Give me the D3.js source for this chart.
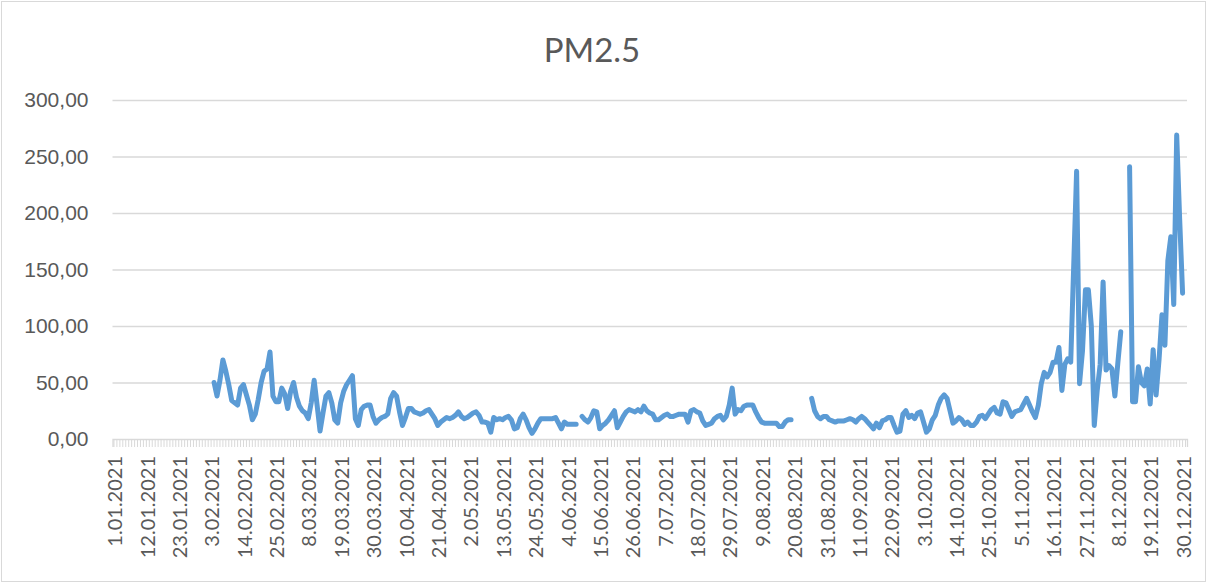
<!DOCTYPE html>
<html>
<head>
<meta charset="utf-8">
<script src="https://cdn.jsdelivr.net/npm/d3@7"></script>
<style>
  body { margin: 0; background: #fff; }
  svg { display: block; font-family: Lato, "Open Sans", sans-serif; }
</style>
</head>
<body>
<div id="chart"></div>
<script>
// daily PM2.5, 2021 (null = no measurement)
const jan = Array(31).fill(null);
const feb = [null, null, null,
  50, 38, 52, 70, 60, 48, 34, 32, 30, 45, 48, 39, 30, 17, 22, 35, 50, 60, 62, 77, 38, 33, 33, 45, 40];
const mar = [27, 42, 50, 37, 29, 25, 23, 18, 32, 52, 30, 7, 23, 38, 41, 32, 17, 14, 32, 42,
  48, 52, 56, 18, 12, 26, 29, 30, 30, 20, 14];
const apr = [17, 19, 20, 22, 36, 41, 38, 24, 12, 19, 27, 27, 24, 23, 22, 23, 25, 26, 22, 18,
  12, 15, 17, 19, 18, 19, 21, 24, 20, 18];
const may = [19, 21, 23, 24, 21, 15, 15, 14, 6, 19, 17, 18, 17, 19, 20, 17, 9, 10, 18, 22,
  17, 10, 5, 9, 14, 18, 18, 18, 18, 18, 19];
const jun = [14, 9, 15, 13, 13, 13, 13, null, 20, 17, 15, 19, 25, 24, 9, 12, 14, 17, 21, 25,
  10, 15, 20, 24, 26, 25, 24, 26, 24, 29];
const jul = [25, 23, 22, 17, 17, 19, 21, 22, 20, 20, 21, 22, 22, 22, 15, 25, 26, 24, 23, 16,
  12, 13, 14, 18, 20, 21, 17, 20, 30, 45, 22];
const aug = [26, 25, 29, 30, 30, 30, 24, 19, 15, 14, 14, 14, 14, 14, 11, 11, 15, 17, 17,
  null, null, null, null, null, null, 36, 25, 20, 18, 20, 20];
const sep = [17, 16, 15, 16, 16, 16, 17, 18, 17, 15, 18, 20, 18, 15, 12, 9, 14, 10, 16, 17,
  19, 19, 12, 6, 7, 22, 25, 19, 21, 18];
const oct = [23, 24, 15, 6, 9, 17, 21, 30, 36, 39, 36, 25, 14, 16, 19, 17, 13, 15, 12, 12,
  15, 20, 21, 18, 22, 26, 28, 23, 22, 33, 32];
const nov = [26, 20, 24, 25, 26, 31, 36, 30, 24, 19, 30, 49, 59, 55, 59, 68, 68, 81, 43, 66,
  71, 68, 152, 237, 49, 78, 132, 132, 100, 12];
const dec = [43, 66, 139, 61, 65, 62, 38, 67, 95, null, null, 241, 33, 33, 64, 50, 47, 62, 31, 79,
  39, 70, 110, 83, 158, 179, 119, 269, 195, 129, null];

const values = [].concat(jan, feb, mar, apr, may, jun, jul, aug, sep, oct, nov, dec);
const days = d3.timeDay.range(new Date(2021, 0, 1), new Date(2022, 0, 1));
const yTicks = [0, 50, 100, 150, 200, 250, 300];
const labelEvery = 11;
const title = 'PM2.5';

const W = 1208, H = 585;
const plotLeft = 112.5, plotRight = 1187, plotTop = 100, plotBottom = 439;
const grey = '#595959';

const svg = d3.select('#chart').append('svg')
  .attr('width', W)
  .attr('height', H);

svg.append('rect')
  .attr('x', 1.5).attr('y', 1.5)
  .attr('width', W - 4).attr('height', H - 5)
  .attr('fill', '#fff')
  .attr('stroke', '#d9d9d9');

const x = d3.scaleBand()
  .domain(d3.range(days.length))
  .range([plotLeft, plotRight]);

const y = d3.scaleLinear()
  .domain([0, 300])
  .range([plotBottom, plotTop]);

// grid + y labels
const yAxis = svg.append('g')
  .attr('transform', `translate(${plotLeft},0)`)
  .call(d3.axisLeft(y)
    .tickValues(yTicks)
    .tickSize(-(plotRight - plotLeft))
    .tickPadding(24)
    .tickFormat(d => d3.format('.2f')(d).replace('.', ',')));
yAxis.select('.domain').remove();
yAxis.selectAll('.tick line').attr('stroke', '#d9d9d9').attr('stroke-width', 1.3);
yAxis.selectAll('.tick text')
  .attr('fill', grey)
  .style('font-size', '21px');
yAxis.selectAll('.tick').filter(d => d === 0).select('line').remove();

// daily tick stripe
const xTicks = svg.append('g')
  .attr('transform', `translate(0,${plotBottom})`)
  .call(d3.axisBottom(x).tickSize(8).tickFormat(''));
xTicks.select('.domain').attr('stroke', '#d9d9d9').attr('stroke-width', 1.3);
xTicks.selectAll('.tick line').attr('stroke', '#d9d9d9');

// date labels
const fmt = d3.timeFormat('%-d.%m.%Y');
svg.append('g')
  .selectAll('text')
  .data(d3.range(0, days.length, labelEvery))
  .join('text')
  .attr('transform', d => `translate(${x(d) + x.bandwidth() / 2 + 1},456) rotate(-90)`)
  .attr('text-anchor', 'end')
  .attr('dy', '0.36em')
  .attr('fill', grey)
  .style('font-size', '20px')
  .text(d => fmt(days[d]));

// series
const line = d3.line()
  .defined(d => d != null)
  .x((d, i) => x(i) + x.bandwidth() / 2)
  .y(d => y(d));

svg.append('path')
  .datum(values)
  .attr('fill', 'none')
  .attr('stroke', '#5b9bd5')
  .attr('stroke-width', 5)
  .attr('stroke-linejoin', 'round')
  .attr('stroke-linecap', 'round')
  .attr('d', line);

svg.append('text')
  .attr('x', 592)
  .attr('y', 62)
  .attr('text-anchor', 'middle')
  .attr('fill', grey)
  .style('font-size', '33px')
  .text(title);
</script>
</body>
</html>
